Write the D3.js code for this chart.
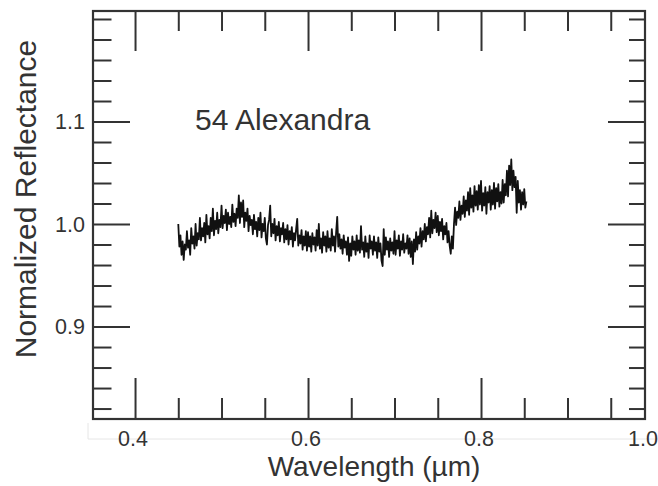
<!DOCTYPE html>
<html>
<head>
<meta charset="utf-8">
<script src="https://cdn.jsdelivr.net/npm/d3@7"></script>
<style>
  html, body { margin: 0; padding: 0; background: #fff; }
  svg { display: block; }
  text { font-family: "Liberation Sans", Arial, Helvetica, sans-serif; fill: #333; }
</style>
</head>
<body>
<svg id="chart" width="658" height="486"></svg>
<script>
// Reflectance spectrum of asteroid 54 Alexandra, normalized; wavelengths in nm
const wavelengthNm = [
  450, 451.25, 452.5, 453.75, 455, 456.25, 457.5, 458.75, 460, 461.25,
  462.5, 463.75, 465, 466.25, 467.5, 468.75, 470, 471.25, 472.5, 473.75,
  475, 476.25, 477.5, 478.75, 480, 481.25, 482.5, 483.75, 485, 486.25,
  487.5, 488.75, 490, 491.25, 492.5, 493.75, 495, 496.25, 497.5, 498.75,
  500, 501.25, 502.5, 503.75, 505, 506.25, 507.5, 508.75, 510, 511.25,
  512.5, 513.75, 515, 516.25, 517.5, 518.75, 520, 521.25, 522.5, 523.75,
  525, 526.25, 527.5, 528.75, 530, 531.25, 532.5, 533.75, 535, 536.25,
  537.5, 538.75, 540, 541.25, 542.5, 543.75, 545, 546.25, 547.5, 548.75,
  550, 551.25, 552.5, 553.75, 555, 556.25, 557.5, 558.75, 560, 561.25,
  562.5, 563.75, 565, 566.25, 567.5, 568.75, 570, 571.25, 572.5, 573.75,
  575, 576.25, 577.5, 578.75, 580, 581.25, 582.5, 583.75, 585, 586.25,
  587.5, 588.75, 590, 591.25, 592.5, 593.75, 595, 596.25, 597.5, 598.75,
  600, 601.25, 602.5, 603.75, 605, 606.25, 607.5, 608.75, 610, 611.25,
  612.5, 613.75, 615, 616.25, 617.5, 618.75, 620, 621.25, 622.5, 623.75,
  625, 626.25, 627.5, 628.75, 630, 631.25, 632.5, 633.75, 635, 636.25,
  637.5, 638.75, 640, 641.25, 642.5, 643.75, 645, 646.25, 647.5, 648.75,
  650, 651.25, 652.5, 653.75, 655, 656.25, 657.5, 658.75, 660, 661.25,
  662.5, 663.75, 665, 666.25, 667.5, 668.75, 670, 671.25, 672.5, 673.75,
  675, 676.25, 677.5, 678.75, 680, 681.25, 682.5, 683.75, 685, 686.25,
  687.5, 688.75, 690, 691.25, 692.5, 693.75, 695, 696.25, 697.5, 698.75,
  700, 701.25, 702.5, 703.75, 705, 706.25, 707.5, 708.75, 710, 711.25,
  712.5, 713.75, 715, 716.25, 717.5, 718.75, 720, 721.25, 722.5, 723.75,
  725, 726.25, 727.5, 728.75, 730, 731.25, 732.5, 733.75, 735, 736.25,
  737.5, 738.75, 740, 741.25, 742.5, 743.75, 745, 746.25, 747.5, 748.75,
  750, 751.25, 752.5, 753.75, 755, 756.25, 757.5, 758.75, 760, 761.25,
  762.5, 763.75, 765, 766.25, 767.5, 768.75, 770, 771.25, 772.5, 773.75,
  775, 776.25, 777.5, 778.75, 780, 781.25, 782.5, 783.75, 785, 786.25,
  787.5, 788.75, 790, 791.25, 792.5, 793.75, 795, 796.25, 797.5, 798.75,
  800, 801.25, 802.5, 803.75, 805, 806.25, 807.5, 808.75, 810, 811.25,
  812.5, 813.75, 815, 816.25, 817.5, 818.75, 820, 821.25, 822.5, 823.75,
  825, 826.25, 827.5, 828.75, 830, 831.25, 832.5, 833.75, 835, 836.25,
  837.5, 838.75, 840, 841.25, 842.5, 843.75, 845, 846.25, 847.5, 848.75,
  850, 851.25, 852.5
];
const reflectance = [
  1.000, 0.978, 0.989, 0.970, 0.983, 0.965, 0.980, 0.975, 0.993, 0.977,
  0.984, 0.970, 0.996, 0.981, 0.988, 0.976, 1.000, 0.979, 0.991, 0.985,
  1.006, 0.984, 0.996, 0.988, 1.001, 0.982, 1.009, 0.990, 0.998, 0.986,
  1.006, 0.993, 1.015, 0.989, 1.003, 0.995, 1.011, 0.991, 1.004, 0.997,
  1.018, 0.996, 1.008, 1.001, 1.014, 0.994, 1.011, 1.000, 1.007, 0.997,
  1.019, 1.002, 1.010, 0.998, 1.015, 1.006, 1.028, 1.001, 1.021, 1.007,
  1.023, 0.997, 1.011, 1.003, 1.015, 0.993, 1.008, 0.999, 1.004, 0.990,
  1.009, 0.995, 1.002, 0.988, 1.006, 0.994, 1.011, 0.987, 1.000, 0.993,
  1.006, 0.986, 0.980, 0.999, 1.004, 1.018, 0.988, 1.000, 0.991, 1.005,
  0.984, 0.998, 0.989, 1.002, 0.983, 0.996, 0.990, 1.001, 0.982, 0.995,
  0.985, 0.999, 0.980, 0.993, 0.985, 0.997, 0.978, 0.991, 0.984, 0.995,
  1.005, 0.979, 0.989, 0.981, 0.994, 0.975, 0.988, 0.979, 0.993, 0.974,
  0.992, 0.978, 0.988, 0.973, 0.991, 0.980, 0.987, 0.974, 0.994, 0.979,
  1.000, 0.976, 0.986, 0.972, 0.992, 0.979, 0.988, 0.973, 0.993, 0.977,
  0.986, 0.974, 0.995, 0.979, 0.988, 0.973, 0.992, 1.007, 0.978, 0.990,
  0.976, 0.985, 0.971, 0.989, 0.977, 0.983, 0.970, 0.987, 0.964, 0.981,
  0.969, 0.988, 0.975, 0.983, 0.970, 0.989, 0.974, 0.984, 0.972, 0.998,
  0.975, 0.982, 0.968, 0.988, 0.973, 0.981, 0.967, 0.989, 0.976, 0.983,
  0.970, 0.988, 0.974, 0.982, 0.967, 0.987, 0.973, 0.981, 0.964, 0.959,
  0.995, 0.970, 0.987, 0.975, 0.983, 0.968, 0.986, 0.974, 0.982, 0.971,
  0.993, 0.970, 0.984, 0.976, 0.989, 0.969, 0.983, 0.975, 0.990, 0.972,
  0.981, 0.976, 0.989, 0.971, 0.986, 0.968, 0.983, 0.961, 0.985, 0.973,
  0.992, 0.975, 0.988, 0.981, 0.996, 0.978, 0.993, 0.985, 1.000, 0.983,
  0.997, 0.990, 1.006, 0.987, 1.013, 0.991, 1.004, 0.996, 1.011, 0.992,
  1.008, 0.989, 1.002, 0.993, 1.005, 0.985, 0.998, 0.990, 1.001, 0.982,
  0.993, 0.979, 0.971, 0.988, 0.976, 1.000, 1.016, 0.999, 1.012, 1.006,
  1.022, 1.004, 1.018, 1.010, 1.027, 1.007, 1.023, 1.013, 1.031, 1.009,
  1.035, 1.016, 1.028, 1.012, 1.037, 1.018, 1.032, 1.014, 1.038, 1.019,
  1.042, 1.013, 1.030, 1.018, 1.036, 1.010, 1.031, 1.021, 1.037, 1.014,
  1.033, 1.019, 1.040, 1.015, 1.035, 1.022, 1.039, 1.017, 1.031, 1.020,
  1.043, 1.021, 1.039, 1.028, 1.052, 1.027, 1.057, 1.038, 1.063, 1.033,
  1.052, 1.036, 1.046, 1.011, 1.042, 1.021, 1.033, 1.014, 1.031, 1.019,
  1.034, 1.016, 1.022
];

// Axis ticks
const xMajorTicks = [0.4, 0.6, 0.8];
const xMinorTicks = [0.45, 0.5, 0.55, 0.65, 0.7, 0.75, 0.85, 0.9, 0.95];
const xTickValues = [0.4, 0.6, 0.8, 1.0];
const xTickLabels = ["0.4", "0.6", "0.8", "1.0"];
const yMajorTicks = [0.9, 1.0, 1.1];
const yMinorTicks = [0.82, 0.84, 0.86, 0.88, 0.92, 0.94, 0.96, 0.98,
                     1.02, 1.04, 1.06, 1.08, 1.12, 1.14, 1.16, 1.18, 1.20];
const yTickLabels = ["0.9", "1.0", "1.1"];

const xTitle = "Wavelength (\u00b5m)";
const yTitle = "Normalized Reflectance";
const objectName = "54 Alexandra";

// Layout
const plot = { left: 93, top: 11, right: 645, bottom: 419 };
const axisColor = "#333";

const svg = d3.select("#chart");

const x = d3.scaleLinear().domain([0.3514, 0.9896]).range([plot.left, plot.right]);
const y = d3.scaleLinear().domain([0.8098, 1.2078]).range([plot.bottom, plot.top]);

// faint guide under the axis labels
svg.append("path")
  .attr("d", `M${plot.left - 5},${plot.bottom + 4}V${plot.bottom + 20}H658`)
  .attr("fill", "none")
  .attr("stroke", "#e6e6e6")
  .attr("stroke-width", 1);

// tick marks, all pointing inward, drawn with d3 axes
function tickAxis(axisFn, scale, values, size, tx, ty) {
  const g = svg.append("g")
    .attr("transform", `translate(${tx},${ty})`)
    .call(axisFn(scale).tickValues(values).tickSize(size).tickFormat(""));
  g.select(".domain").remove();
  g.selectAll(".tick line").attr("stroke", axisColor).attr("stroke-width", 2);
  return g;
}
tickAxis(d3.axisBottom, x, xMajorTicks, -41, 0, plot.bottom);
tickAxis(d3.axisBottom, x, xMinorTicks, -21, 0, plot.bottom);
tickAxis(d3.axisTop, x, xMajorTicks, -40, 0, plot.top);
tickAxis(d3.axisTop, x, xMinorTicks, -20, 0, plot.top);
tickAxis(d3.axisLeft, y, yMajorTicks, -37, plot.left, 0);
tickAxis(d3.axisLeft, y, yMinorTicks, -18.5, plot.left, 0);
tickAxis(d3.axisRight, y, yMajorTicks, -37, plot.right, 0);
tickAxis(d3.axisRight, y, yMinorTicks, -16, plot.right, 0);

// frame
svg.append("rect")
  .attr("x", plot.left).attr("y", plot.top)
  .attr("width", plot.right - plot.left)
  .attr("height", plot.bottom - plot.top)
  .attr("fill", "none")
  .attr("stroke", axisColor)
  .attr("stroke-width", 2.2);

// spectrum
const points = wavelengthNm.map((w, i) => [w / 1000, reflectance[i]]);
svg.append("path")
  .datum(points)
  .attr("d", d3.line().x(d => x(d[0])).y(d => y(d[1])))
  .attr("fill", "none")
  .attr("stroke", "#111")
  .attr("stroke-width", 1.8)
  .attr("stroke-linejoin", "round");

// tick labels
const xMax = x.domain()[1];
svg.append("g").selectAll("text")
  .data(xTickValues)
  .join("text")
  .attr("x", d => x(Math.min(d, xMax)) - 2)
  .attr("y", 445.5)
  .attr("text-anchor", "middle")
  .attr("font-size", 21.5)
  .text((d, i) => xTickLabels[i]);

svg.append("g").selectAll("text")
  .data(yMajorTicks)
  .join("text")
  .attr("x", 85)
  .attr("y", d => y(d))
  .attr("dy", "0.36em")
  .attr("text-anchor", "end")
  .attr("font-size", 21.5)
  .text((d, i) => yTickLabels[i]);

// axis titles
svg.append("text")
  .attr("x", 374)
  .attr("y", 476)
  .attr("text-anchor", "middle")
  .attr("font-size", 28)
  .text(xTitle);

svg.append("text")
  .attr("transform", "translate(36,199) rotate(-90)")
  .attr("text-anchor", "middle")
  .attr("font-size", 30)
  .text(yTitle);

// object label
svg.append("text")
  .attr("x", 195)
  .attr("y", 130)
  .attr("font-size", 30)
  .text(objectName);
</script>
</body>
</html>
